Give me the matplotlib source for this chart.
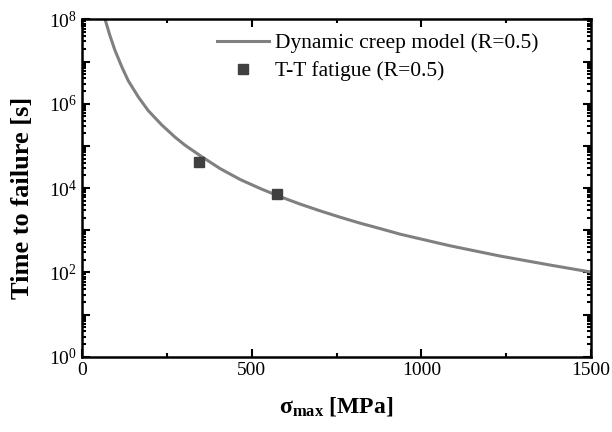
import math
import matplotlib
matplotlib.use("Agg")
import matplotlib.pyplot as plt
from matplotlib.ticker import LogLocator, FuncFormatter, MultipleLocator, NullFormatter

plt.rcParams['font.family'] = ['Liberation Serif', 'DejaVu Serif']
plt.rcParams['mathtext.fontset'] = 'custom'
plt.rcParams['mathtext.rm'] = 'Liberation Serif'
plt.rcParams['mathtext.it'] = 'Liberation Serif:italic'
plt.rcParams['mathtext.bf'] = 'Liberation Serif:bold'

# dynamic creep model curve
model_stress = [68, 82, 97, 117, 136, 166, 195, 235, 274, 303, 348, 407, 466, 525,
                583, 642, 701, 760, 819, 878, 937, 1084, 1232, 1379, 1500]
model_time = [1.0e8, 4.2e7, 1.86e7, 7.6e6, 3.55e6, 1.45e6, 6.9e5, 3.15e5, 1.62e5, 1.05e5,
              5.9e4, 2.9e4, 1.6e4, 9.8e3, 6.3e3, 4.2e3, 2.9e3, 2.05e3, 1.48e3, 1.1e3,
              810, 430, 245, 150, 102]

# T-T fatigue tests
test_stress = [345, 574]
test_time = [4.2e4, 7.3e3]

fig = plt.figure(figsize=(6.12, 4.32), dpi=100)
ax = fig.add_axes([0.134, 0.174, 0.832, 0.781])

ax.plot(model_stress, model_time, color='#808080', lw=2.2, label='Dynamic creep model (R=0.5)')
ax.plot(test_stress, test_time, 's', color='#404040', ms=7, label='T-T fatigue (R=0.5)')

ax.set_yscale('log')
ax.set_xlim(0, 1500)
ax.set_ylim(1, 1e8)

ax.xaxis.set_major_locator(MultipleLocator(500))
ax.xaxis.set_minor_locator(MultipleLocator(250))
ax.yaxis.set_major_locator(LogLocator(base=10, numticks=20))
ax.yaxis.set_minor_locator(LogLocator(base=10, subs=range(2, 10), numticks=20))
ax.yaxis.set_minor_formatter(NullFormatter())

def ylab(v, pos):
    e = int(round(math.log10(v)))
    if e % 2:
        return ''
    return r'$\mathdefault{10^{%d}}$' % e

ax.yaxis.set_major_formatter(FuncFormatter(ylab))

ax.tick_params(which='both', direction='in', top=True, right=True, width=1.5, labelsize=14)
ax.tick_params(which='major', length=6)
ax.tick_params(which='minor', length=3)
for s in ax.spines.values():
    s.set_linewidth(1.8)

ax.set_xlabel(r'σ$_{\mathbf{max}}$ [MPa]', fontsize=17, fontweight='bold', labelpad=12)
ax.set_ylabel('Time to failure [s]', fontsize=19, fontweight='bold')
ax.yaxis.set_label_coords(-0.095, 0.47)

ax.legend(loc='upper left', bbox_to_anchor=(0.248, 0.985), frameon=False, fontsize=15.5,
          handlelength=2.4, handletextpad=0.3, labelspacing=0.38, borderaxespad=0)

fig.savefig('out.png', dpi=100)
